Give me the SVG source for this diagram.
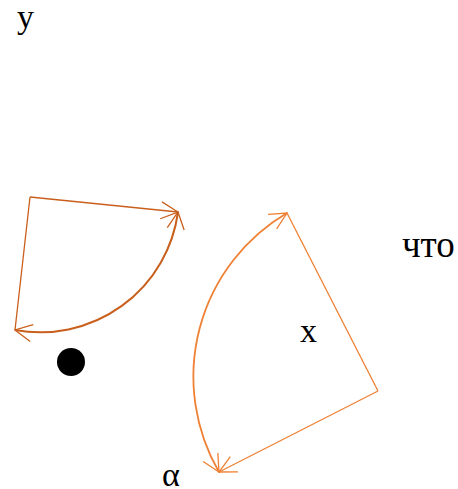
<svg xmlns="http://www.w3.org/2000/svg" width="458" height="489" viewBox="0 0 458 489">
<style>
.t{font-family:"Liberation Serif","Times New Roman",serif;font-size:34px;fill:#000}
.a{fill:none;stroke:#c95f1c}
.b{fill:none;stroke:#ef8134}
</style>
<defs>
<marker id="ma" markerUnits="userSpaceOnUse" viewBox="-18 -10 20 20" refX="0" refY="0" markerWidth="20" markerHeight="20" orient="auto-start-reverse">
<path d="M-17,-8.5 L0,0 L-17,8.5" fill="none" stroke="#c95f1c" stroke-width="1.3"/>
</marker>
<marker id="mb" markerUnits="userSpaceOnUse" viewBox="-18 -10 20 20" refX="0" refY="0" markerWidth="20" markerHeight="20" orient="auto-start-reverse">
<path d="M-17,-8.5 L0,0 L-17,8.5" fill="none" stroke="#ef8134" stroke-width="1.3"/>
</marker>
</defs>
<g id="connectors">
<path class="a" stroke-width="1.3" d="M30,197 L15,330"/>
<path class="a" stroke-width="1.3" d="M30,197 L178,212" marker-end="url(#ma)"/>
<path class="a" stroke-width="2" d="M15,330 A139,139 0 0 0 178,212" marker-start="url(#ma)" marker-end="url(#ma)"/>
<path class="b" stroke-width="1.3" d="M287,213 L378,391"/>
<path class="b" stroke-width="1.3" d="M378,391 L219,472" marker-end="url(#mb)"/>
<path class="b" stroke-width="1.8" d="M287,213 A190,190 0 0 0 219,472" marker-start="url(#mb)" marker-end="url(#mb)"/>
</g>
<g id="dot"><circle cx="71" cy="362" r="14" fill="#000"/></g>
<g id="label-y"><text class="t" x="17" y="28">y</text></g>
<g id="label-x"><text class="t" x="300" y="342">x</text></g>
<g id="label-chto"><text class="t" x="402" y="257" style="font-size:37px">что</text></g>
<g id="label-alpha"><text class="t" x="162" y="486">α</text></g>
</svg>
